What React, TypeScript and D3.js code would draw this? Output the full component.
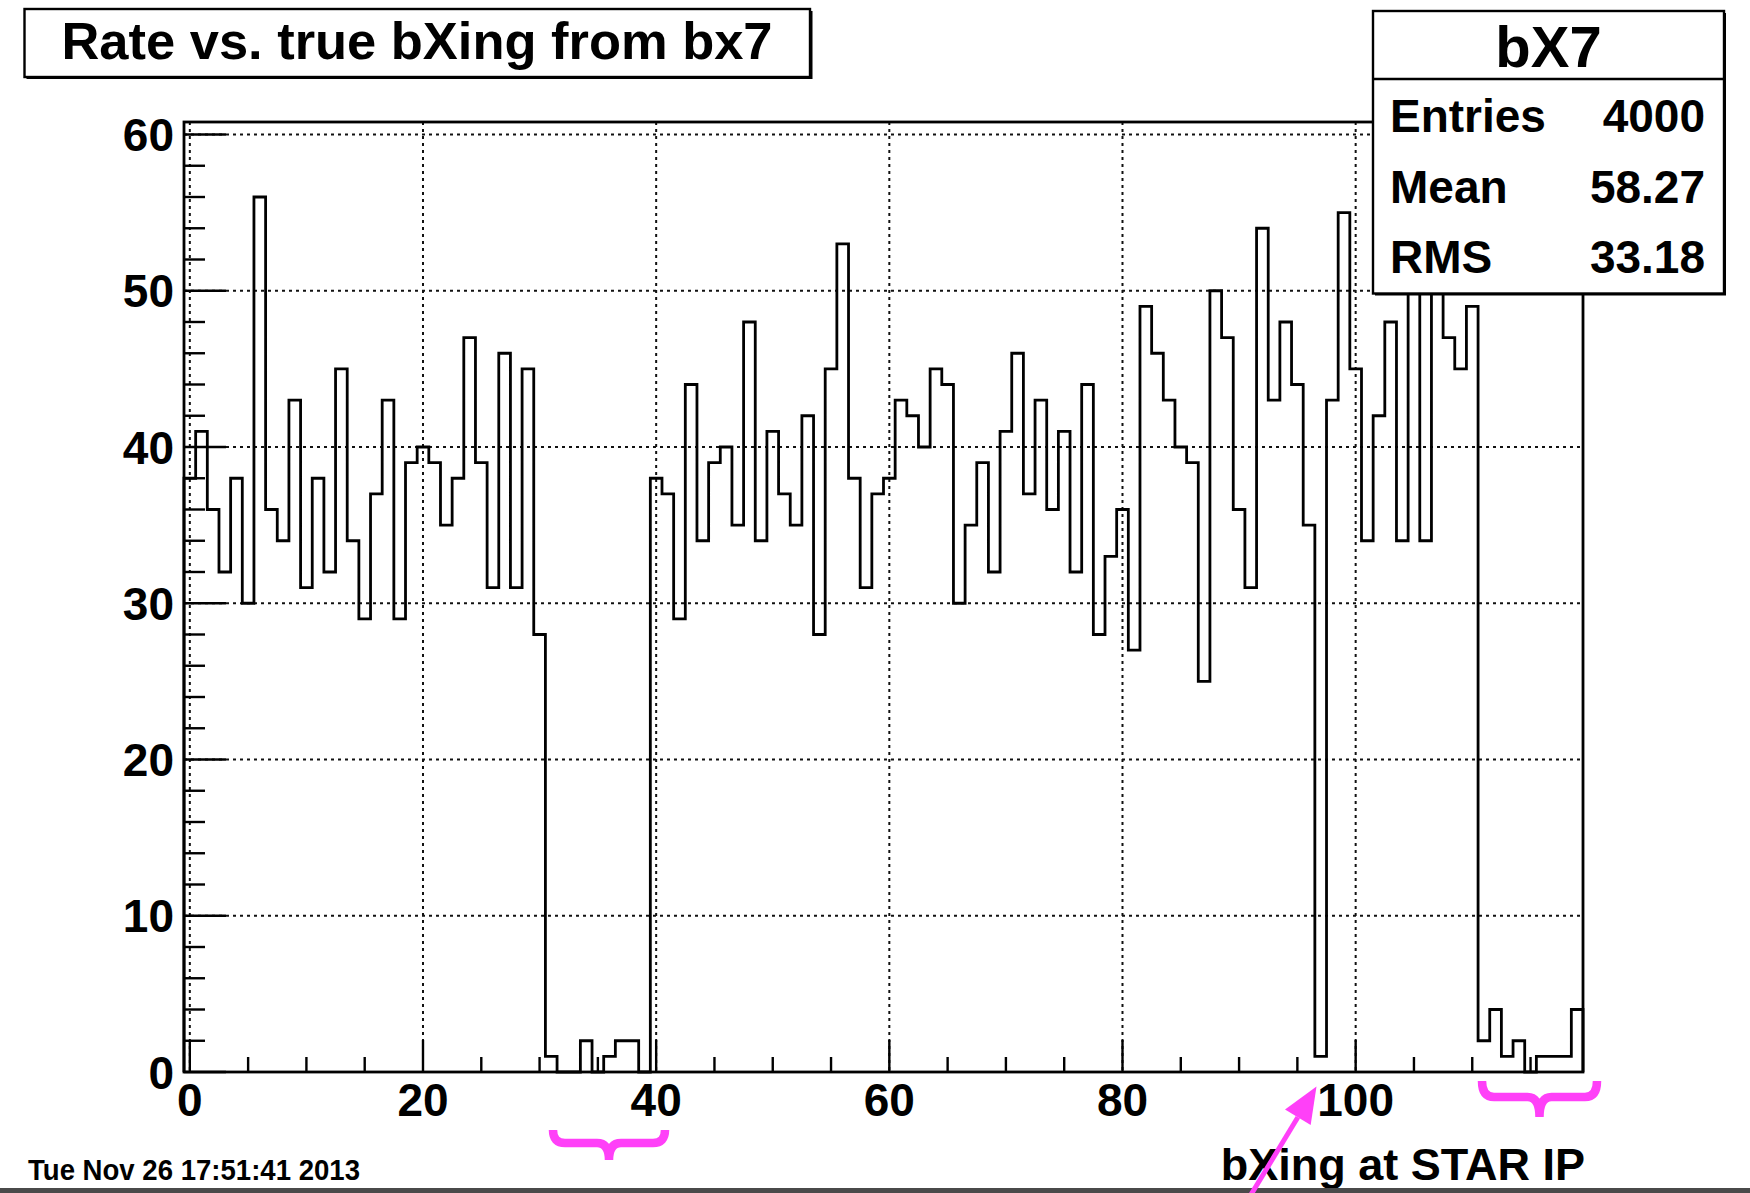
import React from 'react';
import * as d3 from 'd3';

// ---- data ----
const nBins = 120;
const xMin = -0.5;
const xMax = 119.5;
const counts = [
  38, 41, 36, 32, 38, 30, 56, 36, 34, 43,
  31, 38, 32, 45, 34, 29, 37, 43, 29, 39,
  40, 39, 35, 38, 47, 39, 31, 46, 31, 45,
  28, 1, 0, 0, 2, 0, 1, 2, 2, 0,
  38, 37, 29, 44, 34, 39, 40, 35, 48, 34,
  41, 37, 35, 42, 28, 45, 53, 38, 31, 37,
  38, 43, 42, 40, 45, 44, 30, 35, 39, 32,
  41, 46, 37, 43, 36, 41, 32, 44, 28, 33,
  36, 27, 49, 46, 43, 40, 39, 25, 50, 47,
  36, 31, 54, 43, 48, 44, 35, 1, 43, 55,
  45, 34, 42, 48, 34, 54, 34, 58, 47, 45,
  49, 2, 4, 1, 2, 0, 1, 1, 1, 4,
];
const yMax = 60.8;
const xMajorTicks = [0, 20, 40, 60, 80, 100];
const xTickLabels = ['0', '20', '40', '60', '80', '100'];
const yMajorTicks = [0, 10, 20, 30, 40, 50, 60];
const yTickLabels = ['0', '10', '20', '30', '40', '50', '60'];
const titleText = 'Rate vs. true bXing from bx7';
const xAxisTitle = 'bXing at STAR IP';
const dateText = 'Tue Nov 26 17:51:41 2013';
const statsName = 'bX7';
const statsLabels = ['Entries', 'Mean', 'RMS'];
const statsValues = ['4000', '58.27', '33.18'];

const FONT = "'Liberation Sans', Arial, Helvetica, sans-serif";
const PINK = '#ff40f8';

export default function App() {
  const W = 1750, H = 1193;
  const fL = 184, fR = 1583, fT = 122, fB = 1072;
  const x = d3.scaleLinear().domain([xMin, xMax]).range([fL, fR]);
  const y = d3.scaleLinear().domain([0, yMax]).range([fB, fT]);
  const bw = (xMax - xMin) / nBins;

  const pts: [number, number][] = [[xMin, 0]];
  counts.forEach((c, i) => pts.push([xMin + i * bw, c]));
  pts.push([xMax, counts[counts.length - 1]]);
  pts.push([xMax, 0]);
  const histPath = d3.line<[number, number]>()
    .x(d => x(d[0]))
    .y(d => y(d[1]))
    .curve(d3.curveStepAfter)(pts) || '';

  const xMinor = d3.range(0, xMax, 5).filter(v => !xMajorTicks.includes(v));
  const yMinor = d3.range(0, yMax, 2).filter(v => !yMajorTicks.includes(v));

  const brace = (x0: number, x1: number, yTop: number, yMid: number, yTip: number) => {
    const xc = (x0 + x1) / 2, r = 12;
    return `M${x0},${yTop} Q${x0},${yMid} ${x0 + r},${yMid} L${xc - r},${yMid} Q${xc},${yMid} ${xc},${yTip} Q${xc},${yMid} ${xc + r},${yMid} L${x1 - r},${yMid} Q${x1},${yMid} ${x1},${yTop}`;
  };

  // arrow
  const tip = [1316.5, 1086.5];
  const dir = [0.518, -0.855];
  const tail = [tip[0] - dir[0] * 130, tip[1] - dir[1] * 130];
  const hl = 36, hw = 15;
  const base = [tip[0] - dir[0] * hl, tip[1] - dir[1] * hl];
  const nrm = [-dir[1], dir[0]];
  const head = `M${tip[0]},${tip[1]} L${base[0] + nrm[0] * hw},${base[1] + nrm[1] * hw} L${base[0] - nrm[0] * hw},${base[1] - nrm[1] * hw} Z`;

  const sx0 = 1373, sx1 = 1724, sy0 = 11, sy1 = 293.5;

  return (
    <svg width={W} height={H} style={{ position: 'absolute', left: 0, top: 0, background: '#fff' }}
      fontFamily={FONT} fontWeight="bold">
      <rect x={0} y={0} width={W} height={H} fill="#fff" />
      {/* grid */}
      <g stroke="#111" strokeWidth={2} strokeDasharray="3,4">
        {xMajorTicks.map(t => (
          <line key={'gx' + t} x1={x(t)} x2={x(t)} y1={fT} y2={fB} />
        ))}
        {yMajorTicks.filter(t => t > 0).map(t => (
          <line key={'gy' + t} x1={fL} x2={fR} y1={y(t)} y2={y(t)} />
        ))}
      </g>
      {/* histogram */}
      <path d={histPath} fill="none" stroke="#000" strokeWidth={2.8} strokeLinejoin="miter" />
      {/* frame */}
      <rect x={fL} y={fT} width={fR - fL} height={fB - fT} fill="none" stroke="#000" strokeWidth={2.8} />
      {/* ticks */}
      <g stroke="#000" strokeWidth={2.4}>
        {yMajorTicks.map(t => <line key={'yt' + t} x1={fL} x2={fL + 42} y1={y(t)} y2={y(t)} />)}
        {yMinor.map(t => <line key={'ym' + t} x1={fL} x2={fL + 21} y1={y(t)} y2={y(t)} />)}
        {xMajorTicks.map(t => <line key={'xt' + t} x1={x(t)} x2={x(t)} y1={fB} y2={fB - 32} />)}
        {xMinor.map(t => <line key={'xm' + t} x1={x(t)} x2={x(t)} y1={fB} y2={fB - 15} />)}
      </g>
      {/* tick labels */}
      <g fontSize={46} fill="#000">
        {yMajorTicks.map((t, i) => (
          <text key={'yl' + t} x={fL - 10} y={y(t) + 16.5} textAnchor="end">{yTickLabels[i]}</text>
        ))}
        {xMajorTicks.map((t, i) => (
          <text key={'xl' + t} x={x(t)} y={1116} textAnchor="middle">{xTickLabels[i]}</text>
        ))}
      </g>
      {/* axis title */}
      <text x={1585} y={1180} fontSize={45} textAnchor="end">{xAxisTitle}</text>
      {/* date */}
      <text x={28} y={1180} fontSize={30} textLength={332} lengthAdjust="spacingAndGlyphs">{dateText}</text>
      {/* title box */}
      <rect x={26.5} y={11} width={786} height={68} fill="#000" />
      <rect x={24.5} y={9} width={785.5} height={68} fill="#fff" stroke="#000" strokeWidth={2.4} />
      <text x={417} y={59} fontSize={52} textAnchor="middle" textLength={711} lengthAdjust="spacingAndGlyphs">{titleText}</text>
      {/* stats box */}
      <rect x={sx0 + 2} y={sy0 + 2} width={sx1 - sx0} height={sy1 - sy0} fill="#000" />
      <rect x={sx0} y={sy0} width={sx1 - sx0} height={sy1 - sy0} fill="#fff" stroke="#000" strokeWidth={2.4} />
      <line x1={sx0} x2={sx1} y1={79} y2={79} stroke="#000" strokeWidth={2.4} />
      <text x={(sx0 + sx1) / 2} y={67} fontSize={58} textAnchor="middle">{statsName}</text>
      {statsLabels.map((l, i) => (
        <g key={l} fontSize={46}>
          <text x={1390} y={132 + i * 70.5}>{l}</text>
          <text x={1705} y={132 + i * 70.5} textAnchor="end">{statsValues[i]}</text>
        </g>
      ))}
      {/* bottom line */}
      <rect x={0} y={1188} width={W} height={5} fill="#4a4a4a" />
      {/* annotations */}
      <path d={brace(553, 665, 1130, 1143, 1160)} fill="none" stroke={PINK} strokeWidth={8.5} />
      <path d={brace(1482, 1597, 1081, 1097, 1117)} fill="none" stroke={PINK} strokeWidth={8.5} />
      <line x1={tail[0]} y1={tail[1]} x2={base[0]} y2={base[1]} stroke={PINK} strokeWidth={5} />
      <path d={head} fill={PINK} />
    </svg>
  );
}
